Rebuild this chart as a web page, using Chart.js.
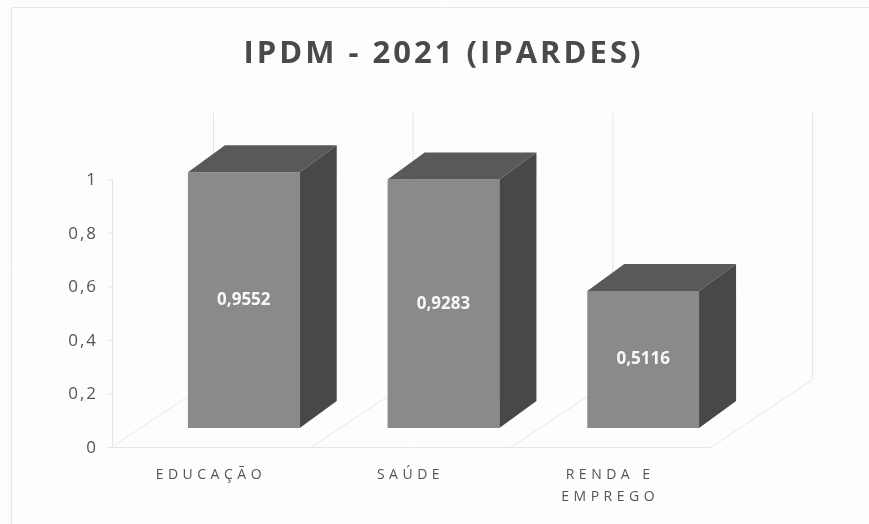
<!DOCTYPE html>
<html>
<head>
<meta charset="utf-8">
<script src="https://cdn.jsdelivr.net/npm/chart.js@4.4.1/dist/chart.umd.min.js"></script>
<style>
  html, body { margin: 0; padding: 0; background: #fdfdfd; }
  #wrap { width: 869px; height: 524px; position: relative; }
</style>
</head>
<body>
<div id="wrap"><canvas id="c" width="869" height="524"></canvas></div>
<script>
const categories = ['EDUCAÇÃO', 'SAÚDE', ['RENDA E', 'EMPREGO']];
const values = [0.9552, 0.9283, 0.5116];
const yTicks = [0, 0.2, 0.4, 0.6, 0.8, 1];
const titleText = 'IPDM - 2021 (IPARDES)';

const FRONT = '#8a8a8a', TOP = '#595959', SIDE = '#484848';
const DEPTH_X = 37, DEPTH_Y = -27;      // bar depth
const BACK_X = 69, BACK_Y = -48;        // back wall offset
const FRONT_X = -32, FRONT_Y = 19;      // front floor edge offset
const WALL = '#e3e7eb';

function fmt(v) { return String(v).replace('.', ','); }

const spacingPlugin = {
  id: 'spacing',
  afterLayout(chart) {
    const xs = chart.scales.x, ys = chart.scales.y;
    if (!xs.__w) {
      const o = xs.drawLabels;
      xs.drawLabels = function (a) { const c = this.ctx; c.save(); c.letterSpacing = '4.5px'; o.call(this, a); c.restore(); };
      xs.__w = true;
    }
    if (!ys.__w) {
      const o = ys.drawLabels;
      ys.drawLabels = function (a) { const c = this.ctx; c.save(); c.letterSpacing = '2px'; o.call(this, a); c.restore(); };
      ys.__w = true;
    }
    const tb = chart.titleBlock;
    if (tb && !tb.__w) {
      const o = tb.draw;
      tb.draw = function (a) { const c = this.ctx; c.save(); c.letterSpacing = '3px'; o.call(this, a); c.restore(); };
      tb.__w = true;
    }
  }
};

const wallsPlugin = {
  id: 'walls',
  beforeDatasetsDraw(chart) {
    const ctx = chart.ctx, xs = chart.scales.x, ys = chart.scales.y;
    const y0 = ys.getPixelForValue(0), y1 = ys.getPixelForValue(1);
    const n = categories.length;
    const step = (xs.right - xs.left) / n;
    ctx.save();
    ctx.strokeStyle = WALL;
    ctx.lineWidth = 1;
    // frame edges
    ctx.beginPath();
    ctx.moveTo(11.5, chart.height); ctx.lineTo(11.5, 7.5); ctx.lineTo(chart.width, 7.5);
    ctx.stroke();
    ctx.beginPath();
    for (let i = 0; i <= n; i++) {
      const bx = xs.left + i * step;
      // back wall verticals
      ctx.moveTo(bx + BACK_X + 0.5, y1 + BACK_Y);
      ctx.lineTo(bx + BACK_X + 0.5, y0 + BACK_Y);
      // floor depth lines
      ctx.moveTo(bx + FRONT_X, y0 + FRONT_Y);
      ctx.lineTo(bx + BACK_X, y0 + BACK_Y);
    }
    // front floor edge
    ctx.moveTo(xs.left + FRONT_X, y0 + FRONT_Y + 0.5);
    ctx.lineTo(xs.right + FRONT_X, y0 + FRONT_Y + 0.5);
    // left axis line
    ctx.moveTo(xs.left + FRONT_X + 0.5, y1 + FRONT_Y);
    ctx.lineTo(xs.left + FRONT_X + 0.5, y0 + FRONT_Y);
    // tick marks
    yTicks.forEach(v => {
      const py = ys.getPixelForValue(v) + FRONT_Y + 0.5;
      ctx.moveTo(xs.left + FRONT_X - 5, py);
      ctx.lineTo(xs.left + FRONT_X, py);
    });
    ctx.stroke();
    ctx.restore();
  },
  afterDatasetsDraw(chart) {
    const ctx = chart.ctx;
    const meta = chart.getDatasetMeta(0);
    ctx.save();
    meta.data.forEach((bar, i) => {
      const p = bar.getProps(['x', 'y', 'base', 'width'], true);
      const l = p.x - p.width / 2, r = p.x + p.width / 2, t = p.y, b = p.base;
      // top face
      ctx.fillStyle = TOP;
      ctx.beginPath();
      ctx.moveTo(l, t); ctx.lineTo(l + DEPTH_X, t + DEPTH_Y);
      ctx.lineTo(r + DEPTH_X, t + DEPTH_Y); ctx.lineTo(r, t); ctx.closePath();
      ctx.fill();
      // side face
      ctx.fillStyle = SIDE;
      ctx.beginPath();
      ctx.moveTo(r, t); ctx.lineTo(r + DEPTH_X, t + DEPTH_Y);
      ctx.lineTo(r + DEPTH_X, b + DEPTH_Y); ctx.lineTo(r, b); ctx.closePath();
      ctx.fill();
      // value label
      ctx.fillStyle = '#f7f7f7';
      ctx.font = 'bold 17px "Open Sans", sans-serif';
      ctx.textAlign = 'center';
      ctx.textBaseline = 'middle';
      ctx.fillText(fmt(values[i]), p.x, (t + b) / 2);
    });
    ctx.restore();
  }
};

new Chart(document.getElementById('c'), {
  type: 'bar',
  data: {
    labels: categories,
    datasets: [{
      data: values,
      backgroundColor: FRONT,
      borderWidth: 0,
      barPercentage: 0.56,
      categoryPercentage: 1
    }]
  },
  options: {
    responsive: false,
    animation: false,
    events: [],
    layout: { padding: { left: 0, right: 126, top: 0, bottom: 0 } },
    plugins: {
      legend: { display: false },
      tooltip: { enabled: false },
      title: {
        display: true,
        text: titleText,
        fullSize: false,
        color: '#4a4a4a',
        font: { family: '"Open Sans", sans-serif', size: 31, weight: 'bold', lineHeight: 1.2 },
        padding: { top: 36, bottom: 87 }
      }
    },
    scales: {
      x: {
        grid: { display: false, drawTicks: false },
        border: { display: false },
        ticks: {
          color: '#555555',
          font: { family: '"Open Sans", sans-serif', size: 14, lineHeight: 1.55 },
          padding: 36,
          labelOffset: -33,
          maxRotation: 0,
          autoSkip: false
        },
        afterFit(s) { s.height = 96; }
      },
      y: {
        min: 0, max: 1,
        afterBuildTicks(s) { s.ticks = yTicks.map(v => ({ value: v })); },
        grid: { display: false, drawTicks: false },
        border: { display: false },
        ticks: {
          color: '#555555',
          font: { family: '"Open Sans", sans-serif', size: 17 },
          padding: 46,
          labelOffset: 20,
          callback: v => fmt(v)
        },
        afterFit(s) { s.width = 144; }
      }
    }
  },
  plugins: [spacingPlugin, wallsPlugin]
});
</script>
</body>
</html>
